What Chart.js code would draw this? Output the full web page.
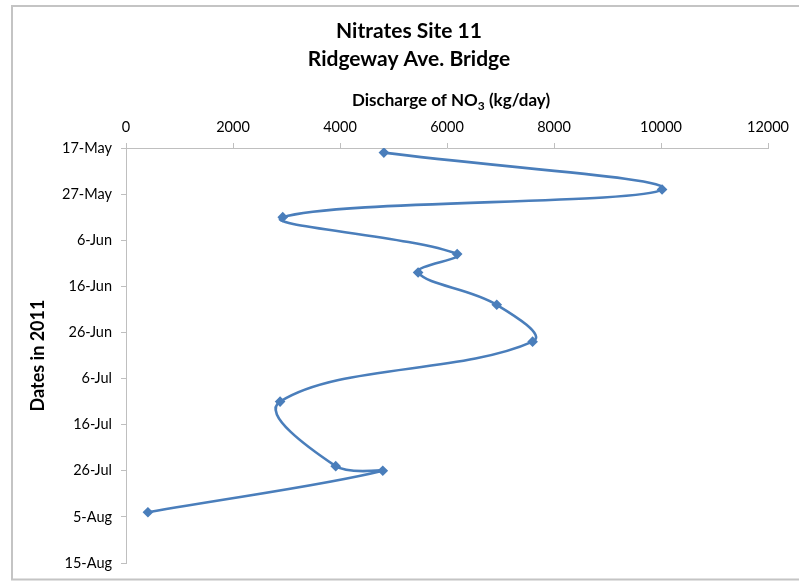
<!DOCTYPE html>
<html>
<head>
<meta charset="utf-8">
<script src="https://cdn.jsdelivr.net/npm/chart.js@4/dist/chart.umd.min.js"></script>
<style>
  html, body { margin: 0; padding: 0; background: #fff; }
  #wrap { width: 799px; height: 581px; position: relative; }
</style>
</head>
<body>
<div id="wrap"><canvas id="c" width="799" height="581"></canvas></div>
<script>
// Sampling dates at Site 11 (Ridgeway Ave. Bridge), 2011
const sampleDates = ['2011-05-18', '2011-05-26', '2011-06-01', '2011-06-09', '2011-06-13', '2011-06-20',
                     '2011-06-28', '2011-07-11', '2011-07-25', '2011-07-26', '2011-08-04'];
// Nitrate discharge, kg/day
const dischargeNO3 = [4820, 10020, 2930, 6190, 5460, 6930, 7600, 2880, 3920, 4800, 410];
// Axis ticks
const xTicks = [0, 2000, 4000, 6000, 8000, 10000, 12000];
const dateTickLabels = ['17-May', '27-May', '6-Jun', '16-Jun', '26-Jun', '6-Jul', '16-Jul', '26-Jul', '5-Aug', '15-Aug'];

const START = Date.UTC(2011, 4, 17);
const DAY = 86400000;
function dayOffset(iso) {
  const p = iso.split('-').map(Number);
  return Math.round((Date.UTC(p[0], p[1] - 1, p[2]) - START) / DAY);
}

const points = sampleDates.map((d, i) => ({ x: dischargeNO3[i], y: dayOffset(d) }));

const FONT = 'Lato, "Open Sans", "DejaVu Sans", sans-serif';
const BLUE = '#4a7ebb';
const AXIS = '#bfbfbf';

// Titles, axis captions and the outer frame
const decorations = {
  id: 'decorations',
  beforeDraw(chart) {
    const ctx = chart.ctx;
    ctx.save();
    ctx.fillStyle = '#fff';
    ctx.fillRect(0, 0, chart.width, chart.height);
    ctx.strokeStyle = '#c4c4c4';
    ctx.lineWidth = 2;
    ctx.beginPath();
    ctx.moveTo(chart.width + 2, 6);
    ctx.lineTo(12, 6);
    ctx.lineTo(12, 579.5);
    ctx.lineTo(chart.width + 2, 579.5);
    ctx.stroke();
    ctx.restore();
  },
  afterDraw(chart) {
    const ctx = chart.ctx;
    const a = chart.chartArea;
    ctx.save();
    ctx.fillStyle = '#000';
    ctx.textAlign = 'center';
    ctx.textBaseline = 'middle';
    ctx.font = 'bold 21px ' + FONT;
    ctx.fillText('Nitrates Site 11', 409, 31);
    ctx.fillText('Ridgeway Ave. Bridge', 409, 59);

    // x caption with subscript 3
    const big = 'bold 17px ' + FONT, small = 'bold 12px ' + FONT;
    const p1 = 'Discharge of NO', p3 = ' (kg/day)';
    ctx.font = big;
    const w1 = ctx.measureText(p1).width;
    const w3 = ctx.measureText(p3).width;
    ctx.font = small;
    const w2 = ctx.measureText('3').width;
    const total = w1 + w2 + w3;
    let x = 451 - total / 2;
    ctx.textAlign = 'left';
    ctx.font = big;
    ctx.fillText(p1, x, 101);
    ctx.font = small;
    ctx.fillText('3', x + w1, 106);
    ctx.font = big;
    ctx.fillText(p3, x + w1 + w2, 101);

    // y caption
    ctx.translate(38, (a.top + a.bottom) / 2);
    ctx.rotate(-Math.PI / 2);
    ctx.textAlign = 'center';
    ctx.font = 'bold 18px ' + FONT;
    ctx.fillText('Dates in 2011', 0, 0);
    ctx.restore();
  }
};

new Chart(document.getElementById('c'), {
  type: 'scatter',
  data: {
    datasets: [{
      data: points,
      showLine: true,
      borderColor: BLUE,
      backgroundColor: BLUE,
      borderWidth: 2.6,
      tension: 0.4,
      pointStyle: 'rectRot',
      pointRadius: 3.5,
      pointHoverRadius: 3.5
    }]
  },
  options: {
    responsive: false,
    animation: false,
    events: [],
    layout: { padding: { left: 0, top: 0, right: 31, bottom: 18 } },
    plugins: { legend: { display: false }, tooltip: { enabled: false } },
    scales: {
      x: {
        type: 'linear',
        position: 'top',
        min: 0, max: 12000,
        afterBuildTicks(s) { s.ticks = xTicks.map(v => ({ value: v })); },
        afterFit(s) { s.height = 148; },
        grid: { drawOnChartArea: false, drawTicks: true, tickLength: 5, color: AXIS, tickColor: AXIS },
        border: { color: AXIS, width: 1 },
        ticks: {
          color: '#000', font: { family: FONT, size: 14.5 }, padding: 7, maxRotation: 0,
          callback: (v) => String(v)
        }
      },
      y: {
        type: 'linear',
        reverse: true,
        min: 0, max: 90,
        afterBuildTicks(s) { s.ticks = dateTickLabels.map((_, i) => ({ value: i * 10 })); },
        afterFit(s) { s.width = 126; },
        grid: { drawOnChartArea: false, drawTicks: true, tickLength: 5, color: AXIS, tickColor: AXIS },
        border: { color: AXIS, width: 1 },
        ticks: {
          color: '#000', font: { family: FONT, size: 14.5 }, padding: 9,
          callback: (v) => dateTickLabels[Math.round(v / 10)]
        }
      }
    }
  },
  plugins: [decorations]
});
</script>
</body>
</html>
